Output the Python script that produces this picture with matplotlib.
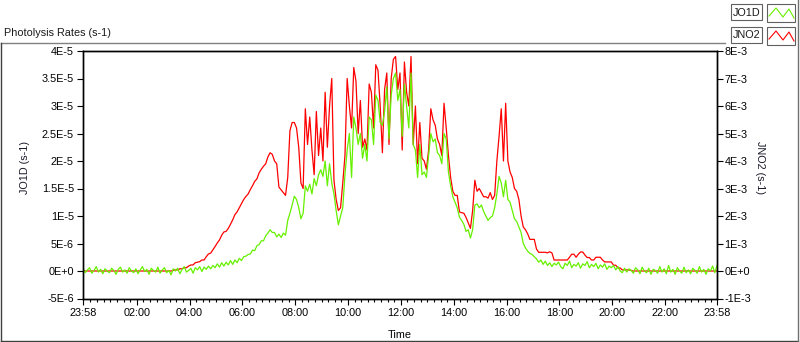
### Imports ###
import numpy as np
import matplotlib
matplotlib.use('Agg')
import matplotlib.pyplot as plt
from matplotlib.patches import Rectangle

### Data ###
# JO1D (units of 1E-5 s-1) and JNO2 (units of 1E-3 s-1), one value every 5 min from 23:58
# each row is one hour
jo1d = [
    0.05, -0.03, 0.02, 0.06, -0.04, 0.01, 0.08, -0.02, 0.03, -0.05, 0.04, 0.00,
    -0.03, 0.05, 0.01, -0.06, 0.03, 0.07, -0.02, 0.02, -0.04, 0.06, 0.00, -0.03,
    0.04, -0.05, 0.02, 0.08, -0.01, 0.03, -0.06, 0.05, 0.01, -0.02, 0.07, -0.04,
    0.02, 0.06, -0.03, 0.01, -0.07, 0.04, 0.00, 0.05, -0.05, 0.03, 0.08, -0.02,
    0.01, 0.05, -0.04, 0.06, 0.02, 0.08, -0.01, 0.07, 0.03, 0.09, 0.04, 0.10,
    0.06, 0.13, 0.07, 0.15, 0.09, 0.16, 0.11, 0.19, 0.12, 0.20, 0.15, 0.23,
    0.19, 0.26, 0.27, 0.30, 0.31, 0.38, 0.37, 0.46, 0.48, 0.55, 0.55, 0.64,
    0.69, 0.75, 0.70, 0.70, 0.62, 0.67, 0.61, 0.69, 0.65, 0.92, 1.05, 1.20,
    1.36, 1.30, 1.15, 0.95, 1.05, 1.55, 1.45, 1.58, 1.40, 1.68, 1.55, 1.75,
    1.84, 1.72, 2.00, 1.55, 1.95, 1.60, 1.40, 1.10, 0.84, 1.00, 1.15, 1.75,
    2.20, 2.50, 1.70, 2.80, 2.60, 2.30, 2.50, 2.05, 2.30, 2.00, 2.80, 2.75,
    2.30, 3.20, 3.10, 2.70, 2.65, 2.90, 3.35, 2.40, 3.20, 3.50, 3.60, 3.10,
    3.30, 2.45, 3.40, 3.00, 2.60, 3.60, 2.30, 2.20, 1.70, 2.30, 1.75, 1.80,
    1.70, 2.10, 2.50, 2.35, 2.40, 2.15, 2.10, 1.95, 2.50, 2.40, 1.80, 1.55,
    1.35, 1.25, 1.15, 0.98, 0.92, 0.85, 0.72, 0.75, 0.60, 0.75, 1.20, 1.22,
    1.15, 1.20, 1.08, 1.00, 0.92, 0.97, 1.00, 1.15, 1.40, 1.72, 1.60, 1.35,
    1.65, 1.30, 1.25, 1.10, 0.95, 0.90, 0.80, 0.70, 0.50, 0.42, 0.36, 0.32,
    0.30, 0.26, 0.22, 0.16, 0.20, 0.12, 0.18, 0.10, 0.15, 0.08, 0.14, 0.11,
    0.16, 0.08, 0.04, 0.14, 0.10, 0.18, 0.06, 0.12, 0.09, 0.15, 0.05, 0.13,
    0.10, 0.17, 0.06, 0.12, 0.08, 0.14, 0.04, 0.11, 0.07, 0.13, 0.03, 0.09,
    0.06, 0.10, 0.02, 0.08, 0.00, -0.03, 0.05, -0.02, 0.04, 0.01, -0.04, 0.06,
    0.02, -0.05, 0.07, 0.00, -0.03, 0.05, -0.06, 0.03, 0.01, -0.04, 0.08, -0.02,
    0.04, -0.05, 0.10, -0.02, 0.03, -0.06, 0.06, 0.00, -0.04, 0.07, -0.03, 0.02,
    -0.05, 0.05, 0.01, -0.04, 0.08, -0.02, 0.03, -0.06, 0.04, 0.00, 0.09, -0.03,
    0.10,
]
jno2 = [
    0, 0, 0, 0, 0, 0, 0, 0, 0, 0, 0, 0,
    0, 0, 0, 0, 0, 0, 0, 0, 0, 0, 0, 0,
    0, 0, 0, 0, 0, 0, 0, 0, 0, 0, 0, 0,
    0, 0, 0, 0, 0, 0.02, 0.04, 0.04, 0.08, 0.08, 0.12, 0.12,
    0.18, 0.22, 0.22, 0.30, 0.32, 0.34, 0.40, 0.40, 0.52, 0.62, 0.65, 0.77,
    0.89, 1.02, 1.13, 1.30, 1.42, 1.44, 1.55, 1.70, 1.86, 2.05, 2.15, 2.30,
    2.45, 2.60, 2.71, 2.80, 2.96, 3.10, 3.26, 3.35, 3.57, 3.70, 3.81, 3.90,
    4.15, 4.30, 4.24, 4.00, 3.90, 3.05, 2.95, 2.85, 2.75, 3.40, 5.10, 5.40,
    5.40, 5.20, 4.50, 3.20, 3.00, 5.90, 4.60, 5.60, 4.40, 3.50, 5.80, 4.20,
    5.20, 4.00, 6.50, 4.50, 6.00, 7.00, 3.30, 2.60, 2.20, 2.30, 3.20, 4.20,
    7.00, 6.00, 5.20, 7.40, 6.90, 5.00, 6.20, 4.50, 4.80, 4.40, 6.80, 6.50,
    5.20, 7.50, 7.30, 6.00, 4.30, 6.60, 7.20, 4.60, 7.00, 7.70, 7.80, 6.60,
    7.20, 4.40, 7.60, 6.50, 6.00, 7.80, 4.60, 6.00, 3.90, 5.40, 4.10, 4.00,
    3.70, 4.40, 5.90, 5.50, 5.30, 4.80, 4.60, 4.20, 6.10, 5.20, 4.20, 3.40,
    2.90, 2.75, 2.75, 2.15, 2.12, 2.10, 1.95, 1.75, 1.55, 2.20, 3.30, 2.90,
    3.00, 2.85, 2.70, 2.70, 2.65, 2.85, 2.60, 2.75, 4.00, 4.90, 5.90, 4.00,
    6.10, 4.00, 3.60, 3.40, 3.00, 2.90, 2.60, 2.00, 1.60, 1.50, 1.35, 1.15,
    1.15, 1.15, 0.80, 0.68, 0.68, 0.68, 0.68, 0.66, 0.70, 0.66, 0.40, 0.40,
    0.40, 0.40, 0.40, 0.40, 0.40, 0.50, 0.61, 0.61, 0.50, 0.61, 0.69, 0.69,
    0.58, 0.49, 0.49, 0.40, 0.40, 0.50, 0.50, 0.50, 0.40, 0.33, 0.33, 0.33,
    0.33, 0.21, 0.21, 0.11, 0.11, 0.04, 0.04, 0.04, 0.04, 0.02, 0, 0,
    0, 0, 0, 0, 0, 0, 0, 0, 0, 0, 0, 0,
    0, 0, 0, 0, 0, 0, 0, 0, 0, 0, 0, 0,
    0, 0, 0, 0, 0, 0, 0, 0, 0, 0, 0, 0,
    0,
]

time_labels = ['23:58', '02:00', '04:00', '06:00', '08:00', '10:00', '12:00',
               '14:00', '16:00', '18:00', '20:00', '22:00', '23:58']
left_labels = ['-5E-6', '0E+0', '5E-6', '1E-5', '1.5E-5', '2E-5', '2.5E-5',
               '3E-5', '3.5E-5', '4E-5']
right_labels = ['-1E-3', '0E+0', '1E-3', '2E-3', '3E-3', '4E-3', '5E-3',
                '6E-3', '7E-3', '8E-3']

### Setup ###
plt.rcParams['font.family'] = ['Liberation Sans', 'DejaVu Sans']
plt.rcParams['font.size'] = 7.8

W, H = 800, 342
start = -2 / 60
t = start + np.arange(len(jo1d)) / 12.0
green = '#66f000'
red = '#ff0000'

fig = plt.figure(figsize=(W / 100, H / 100), dpi=100)

# background layer in pixel coordinates for the panel frame, title and legend
bg = fig.add_axes([0, 0, 1, 1])
bg.set_xlim(0, W)
bg.set_ylim(H, 0)
bg.axis('off')
bg.plot([0.5, 725], [42.5, 42.5], color='#808080', lw=1)
bg.plot([0.5, 0.5], [42.5, 340.5], color='#404040', lw=1)
bg.plot([0.5, 798], [340.5, 340.5], color='#404040', lw=1)
bg.plot([798, 798], [0, 340.5], color='#707070', lw=1)
bg.text(4, 36, 'Photolysis Rates (s-1)', ha='left', va='baseline', color='#1a1a1a')

# legend
for row, (name, col) in enumerate([('JO1D', green), ('JNO2', red)]):
    y0 = 4 + row * 23
    bg.add_patch(Rectangle((731, y0), 31, 16, fill=False, ec='#606060', lw=0.8))
    bg.text(746.5, y0 + 8.5, name, ha='center', va='center', color='#1a1a1a')
    bg.add_patch(Rectangle((767, y0), 28, 18, fill=False, ec='#606060', lw=0.8))
    bg.plot([769, 776, 783, 789, 794], [y0 + 12, y0 + 4, y0 + 13, y0 + 5, y0 + 14],
            color=col, lw=0.8)

### Main plot ###
ax = fig.add_axes([83 / W, 1 - 298.5 / H, 634 / W, 247.5 / H])
ax.plot(t, np.array(jno2) / 2.0, color=red, lw=0.9)   # 8E-3 on right == 4E-5 on left
ax.plot(t, jo1d, color=green, lw=0.9)

ax.set_xlim(start, 24 + start)
ax.set_ylim(-0.5, 4.0)
ax.set_yticks(np.arange(len(left_labels)) * 0.5 - 0.5)
ax.set_yticklabels(left_labels)

major = [start] + list(range(2, 24, 2)) + [24 + start]
ax.set_xticks(major)
ax.set_xticklabels(time_labels)
minor = [m / 4 for m in range(1, 96) if m % 8 != 0]
ax.set_xticks(minor, minor=True)

ax.tick_params(axis='both', which='major', direction='out', length=4.5, width=0.8, pad=2)
ax.tick_params(axis='x', which='minor', direction='out', length=2.5, width=0.8)
for s in ax.spines.values():
    s.set_linewidth(1.0)

ax.set_ylabel('JO1D (s-1)', color='#1a1a2a')
ax.yaxis.set_label_coords(-0.084, 0.53)
ax.set_xlabel('Time')
ax.xaxis.set_label_coords(0.5, -0.128)

ax2 = ax.twinx()
ax2.set_ylim(-1, 8)
ax2.set_yticks(range(-1, 9))
ax2.set_yticklabels(right_labels)
ax2.tick_params(axis='y', direction='out', length=4.5, width=0.8, pad=1)
ax2.set_ylabel('JNO2 (s-1)', rotation=270, color='#1a1a2a')
ax2.yaxis.set_label_coords(1.076, 0.53)
for s in ax2.spines.values():
    s.set_linewidth(1.0)

fig.savefig('out.png', dpi=100)
